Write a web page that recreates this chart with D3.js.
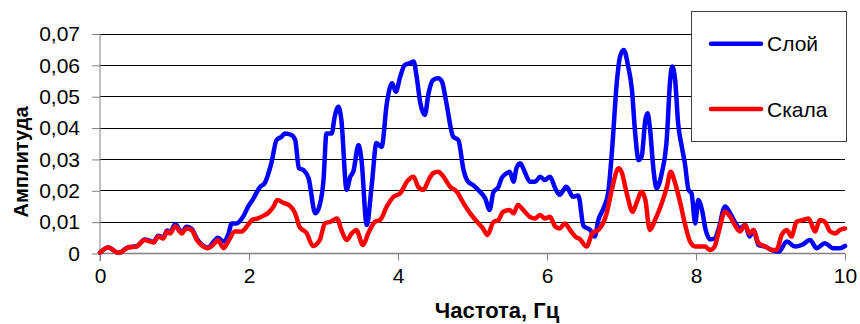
<!DOCTYPE html>
<html>
<head>
<meta charset="utf-8">
<script src="https://cdn.jsdelivr.net/npm/d3@7"></script>
<style>
  html, body { margin: 0; padding: 0; background: #fff; }
  svg { display: block; font-family: "Liberation Sans", Arial, sans-serif; }
</style>
</head>
<body>
<svg id="chart" width="860" height="324"></svg>
<script>
// Spectrum of the layer (Слой) and bedrock (Скала) records
const freqLayer = [0,0.11,0.25,0.38,0.49,0.6,0.72,0.78,0.85,0.9,0.94,1.01,1.1,1.16,1.23,1.3,1.36,1.45,1.54,1.58,1.66,1.72,1.77,1.83,1.92,1.99,2.06,2.15,2.21,2.3,2.37,2.44,2.48,2.57,2.62,2.67,2.73,2.8,2.89,2.95,3.0,3.04,3.11,3.15,3.2,3.24,3.31,3.36,3.4,3.47,3.51,3.58,3.65,3.71,3.78,3.85,3.92,3.97,4.03,4.09,4.16,4.21,4.25,4.3,4.36,4.41,4.47,4.54,4.59,4.65,4.74,4.81,4.88,4.94,5.01,5.1,5.17,5.23,5.28,5.35,5.39,5.46,5.5,5.55,5.59,5.64,5.7,5.77,5.84,5.91,5.97,6.04,6.11,6.17,6.26,6.35,6.42,6.49,6.58,6.64,6.69,6.76,6.82,6.87,6.94,6.98,7.03,7.09,7.14,7.18,7.23,7.27,7.32,7.35,7.38,7.43,7.47,7.54,7.61,7.65,7.68,7.72,7.76,7.81,7.85,7.9,7.94,7.99,8.03,8.08,8.13,8.19,8.25,8.3,8.39,8.46,8.52,8.59,8.66,8.72,8.77,8.84,8.93,9.02,9.11,9.22,9.33,9.42,9.53,9.62,9.73,9.84,9.93,10];
const ampLayer = [0.0003,0.0019,0.0002,0.002,0.0023,0.0045,0.0037,0.0057,0.0051,0.0073,0.0068,0.0093,0.0068,0.0085,0.0079,0.0047,0.003,0.0019,0.0042,0.005,0.0038,0.006,0.0096,0.0096,0.0117,0.015,0.0176,0.0213,0.0224,0.0288,0.0362,0.0373,0.0383,0.0378,0.0362,0.0272,0.0266,0.024,0.0128,0.0155,0.0234,0.0383,0.0383,0.0436,0.0468,0.0426,0.0203,0.0245,0.0261,0.0346,0.0298,0.0091,0.0224,0.0352,0.034,0.0479,0.0543,0.0516,0.0564,0.0601,0.0607,0.0612,0.0564,0.0479,0.0442,0.0511,0.0553,0.0559,0.0548,0.0479,0.0373,0.0362,0.0266,0.0229,0.0218,0.0197,0.0176,0.0139,0.0195,0.0213,0.024,0.0256,0.0261,0.0229,0.0272,0.0288,0.0261,0.0229,0.0229,0.0245,0.0234,0.0245,0.0208,0.0187,0.0213,0.0181,0.0185,0.0088,0.0075,0.0054,0.0107,0.0145,0.0192,0.032,0.0553,0.0628,0.0649,0.0596,0.0522,0.0394,0.0298,0.0309,0.0426,0.0447,0.0404,0.0266,0.0208,0.0256,0.0373,0.0543,0.0596,0.0553,0.0415,0.034,0.0288,0.0203,0.0192,0.0096,0.0171,0.0139,0.0075,0.0045,0.0048,0.0075,0.015,0.0128,0.0101,0.008,0.0091,0.0054,0.0075,0.0027,0.0022,0.0011,0.0006,0.0038,0.0022,0.0027,0.0043,0.0017,0.0033,0.0017,0.0017,0.0024];

const freqRock = [0,0.11,0.25,0.38,0.49,0.6,0.72,0.78,0.85,0.9,0.94,1.01,1.1,1.16,1.23,1.3,1.36,1.45,1.54,1.58,1.66,1.72,1.81,1.9,1.97,2.04,2.12,2.19,2.26,2.33,2.38,2.46,2.55,2.62,2.68,2.77,2.86,2.95,3.02,3.09,3.18,3.24,3.31,3.38,3.44,3.53,3.6,3.69,3.76,3.85,3.94,4.03,4.12,4.21,4.27,4.34,4.41,4.47,4.54,4.61,4.7,4.79,4.88,4.97,5.08,5.14,5.2,5.28,5.35,5.41,5.5,5.55,5.61,5.68,5.77,5.84,5.91,5.97,6.04,6.11,6.17,6.24,6.31,6.38,6.44,6.53,6.61,6.69,6.76,6.8,6.87,6.96,7.0,7.07,7.15,7.2,7.27,7.32,7.38,7.45,7.54,7.61,7.66,7.72,7.79,7.85,7.92,7.99,8.05,8.12,8.19,8.25,8.3,8.39,8.46,8.52,8.59,8.66,8.72,8.77,8.84,8.93,9.02,9.08,9.15,9.22,9.28,9.35,9.44,9.51,9.6,9.66,9.73,9.8,9.87,9.93,10];
const ampRock = [0.0003,0.0019,0.0002,0.0019,0.0022,0.0043,0.0035,0.0054,0.0048,0.007,0.0064,0.0086,0.0064,0.008,0.0075,0.0043,0.0027,0.0017,0.0033,0.0043,0.0017,0.0038,0.007,0.007,0.0086,0.0107,0.0112,0.012,0.013,0.015,0.0171,0.0162,0.0152,0.0128,0.0084,0.0066,0.0024,0.0043,0.0096,0.0101,0.0112,0.0075,0.0043,0.0064,0.0075,0.0027,0.0064,0.0101,0.0107,0.015,0.0181,0.0192,0.0229,0.0245,0.0213,0.0203,0.0234,0.0256,0.0261,0.0245,0.0213,0.0197,0.016,0.0128,0.0096,0.008,0.0059,0.01,0.0107,0.0133,0.0139,0.0128,0.0155,0.0139,0.0117,0.0112,0.0123,0.0112,0.0117,0.0086,0.008,0.0096,0.0075,0.0054,0.0046,0.0022,0.0065,0.0075,0.01,0.0128,0.0203,0.0272,0.0261,0.0192,0.0133,0.016,0.0197,0.0171,0.0075,0.0107,0.016,0.0213,0.0261,0.0224,0.016,0.0096,0.0038,0.0022,0.0022,0.0022,0.0011,0.0022,0.0064,0.0133,0.0117,0.0091,0.007,0.0091,0.0064,0.0075,0.0033,0.0022,0.0011,0.0011,0.0059,0.0075,0.0054,0.0101,0.0107,0.0112,0.007,0.0107,0.0101,0.007,0.0064,0.0075,0.008];

const xTicks = [0, 2, 4, 6, 8, 10];
const yTicks = [0, 0.01, 0.02, 0.03, 0.04, 0.05, 0.06, 0.07];
const seriesNames = ["Слой", "Скала"];
const seriesColors = ["#0000ff", "#ff0000"];
const xTitle = "Частота, Гц";
const yTitle = "Амплитуда";

const svg = d3.select("#chart");
const plot = { left: 100, right: 845, top: 34, bottom: 253.5 };

const x = d3.scaleLinear().domain([0, 10]).range([plot.left, plot.right]);
const y = d3.scaleLinear().domain([0, 0.07]).range([plot.bottom, plot.top]);

const fmtY = v => v === 0 ? "0" : d3.format(".2f")(v).replace(".", ",");

// horizontal grid
svg.append("g")
  .selectAll("line")
  .data(yTicks.filter(v => v > 0))
  .join("line")
  .attr("x1", plot.left).attr("x2", plot.right)
  .attr("y1", d => y(d)).attr("y2", d => y(d))
  .attr("stroke", "#000").attr("stroke-width", 1)
  .attr("shape-rendering", "crispEdges");

// y axis
const gy = svg.append("g")
  .attr("transform", `translate(${plot.left},0)`)
  .call(d3.axisLeft(y).tickValues(yTicks).tickFormat(fmtY).tickSize(8).tickPadding(12));
gy.select(".domain").attr("stroke", "#808080").attr("d", `M0,${plot.top}V${plot.bottom + 8}`);
gy.selectAll(".tick line").attr("stroke", "#808080");
gy.selectAll(".tick text")
  .attr("font-family", "Liberation Sans, Arial, sans-serif")
  .attr("font-size", 21).attr("fill", "#000");

// x axis
const gx = svg.append("g")
  .attr("transform", `translate(0,${plot.bottom})`)
  .call(d3.axisBottom(x).tickValues(xTicks).tickFormat(d3.format("d")).tickSize(7).tickPadding(8));
gx.select(".domain").attr("stroke", "#808080").attr("stroke-width", 1.5).attr("d", `M${plot.left},0H${plot.right}`);
gx.selectAll(".tick line").attr("stroke", "#808080");
gx.selectAll(".tick text")
  .attr("font-family", "Liberation Sans, Arial, sans-serif")
  .attr("font-size", 21).attr("fill", "#000");

// axis titles
svg.append("text")
  .attr("x", 497).attr("y", 318)
  .attr("text-anchor", "middle")
  .attr("font-size", 22).attr("font-weight", "bold")
  .text(xTitle);

svg.append("text")
  .attr("transform", "translate(28,162) rotate(-90)")
  .attr("text-anchor", "middle")
  .attr("font-size", 20).attr("font-weight", "bold")
  .text(yTitle);

// spectra
const line = d3.line()
  .x(d => x(d[0]))
  .y(d => y(d[1]))
  .curve(d3.curveMonotoneX);

const series = [
  d3.zip(freqLayer, ampLayer),
  d3.zip(freqRock, ampRock)
];

svg.append("g")
  .selectAll("path")
  .data(series)
  .join("path")
  .attr("d", line)
  .attr("fill", "none")
  .attr("stroke", (d, i) => seriesColors[i])
  .attr("stroke-width", 4.5)
  .attr("stroke-linejoin", "round")
  .attr("stroke-linecap", "round");

// legend
const legend = svg.append("g");
legend.append("rect")
  .attr("x", 691.5).attr("y", 11.5)
  .attr("width", 155).attr("height", 130)
  .attr("fill", "#fff").attr("stroke", "#404040").attr("stroke-width", 1);

const legendRows = [43.7, 109];
seriesNames.forEach((name, i) => {
  legend.append("line")
    .attr("x1", 711).attr("x2", 761)
    .attr("y1", legendRows[i]).attr("y2", legendRows[i])
    .attr("stroke", seriesColors[i]).attr("stroke-width", 4.5)
    .attr("stroke-linecap", "round");
  legend.append("text")
    .attr("x", 767).attr("y", legendRows[i])
    .attr("dy", "0.36em")
    .attr("font-size", 21)
    .text(name);
});
</script>
</body>
</html>
